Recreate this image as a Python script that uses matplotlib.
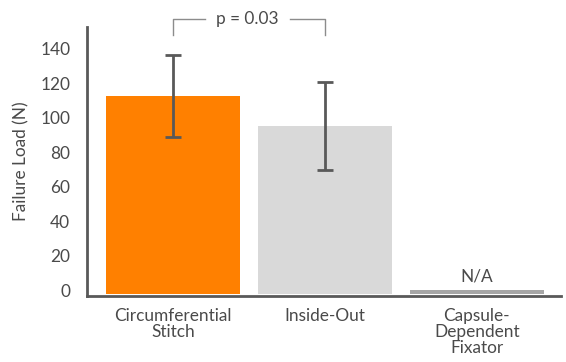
import numpy as np
import matplotlib.pyplot as plt

# ============ Du lieu ============
groups = ['Circumferential\nStitch', 'Inside-Out', 'Capsule-\nDependent\nFixator']
means = [112.5, 95.0, 0.0]
errs = [24.0, 25.5, None]
bar_colors = ['#ff8000', '#d9d9d9', '#a6a6a6']
y_ticks = [0, 20, 40, 60, 80, 100, 120, 140]
p_text = 'p = 0.03'

plt.rcParams['font.family'] = ['Lato', 'DejaVu Sans']
TXT = '#4a4a4a'
AX = '#595959'
FS = 12.4

fig = plt.figure(figsize=(5.66, 3.62), dpi=100)
ax = fig.add_axes([0.1537, 0.183, 0.837, 0.742])

base = -2.5
x = np.arange(len(groups))
ax.bar(x, np.array(means) - base, bottom=base, width=0.88, color=bar_colors)

for xi, m, e in zip(x, means, errs):
    if e is None:
        ax.annotate('N/A', (xi, m), xytext=(0, 4), textcoords='offset points',
                    ha='center', va='bottom', fontsize=FS, color=TXT)
        continue
    ax.errorbar(xi, m, yerr=e, fmt='none', ecolor=AX, elinewidth=2,
                capsize=6, capthick=2)

# --- bracket p-value ---
yb0, yb1 = 148, 157
ax.plot([0, 0, 0.21], [yb0, yb1, yb1], color='#8c8c8c', lw=1, clip_on=False)
ax.plot([0.77, 1, 1], [yb1, yb1, yb0], color='#8c8c8c', lw=1, clip_on=False)
ax.text(0.49, yb1, p_text, ha='center', va='center', fontsize=FS, color=TXT)

ax.set_xlim(-0.566, 2.553)
ax.set_ylim(-3.3, 152.5)
ax.set_yticks(y_ticks)
ax.set_xticks(x)
ax.set_xticklabels(groups, linespacing=1.0)
ax.tick_params(axis='both', length=0, labelsize=FS, labelcolor=TXT)
ax.tick_params(axis='x', pad=9)
ax.tick_params(axis='y', pad=12)
ax.set_ylabel('Failure Load (N)', fontsize=FS, color=TXT, labelpad=8)

for s in ['top', 'right']:
    ax.spines[s].set_visible(False)
for s in ['left', 'bottom']:
    ax.spines[s].set_color(AX)
    ax.spines[s].set_linewidth(2)

fig.savefig('out.png', dpi=100)
